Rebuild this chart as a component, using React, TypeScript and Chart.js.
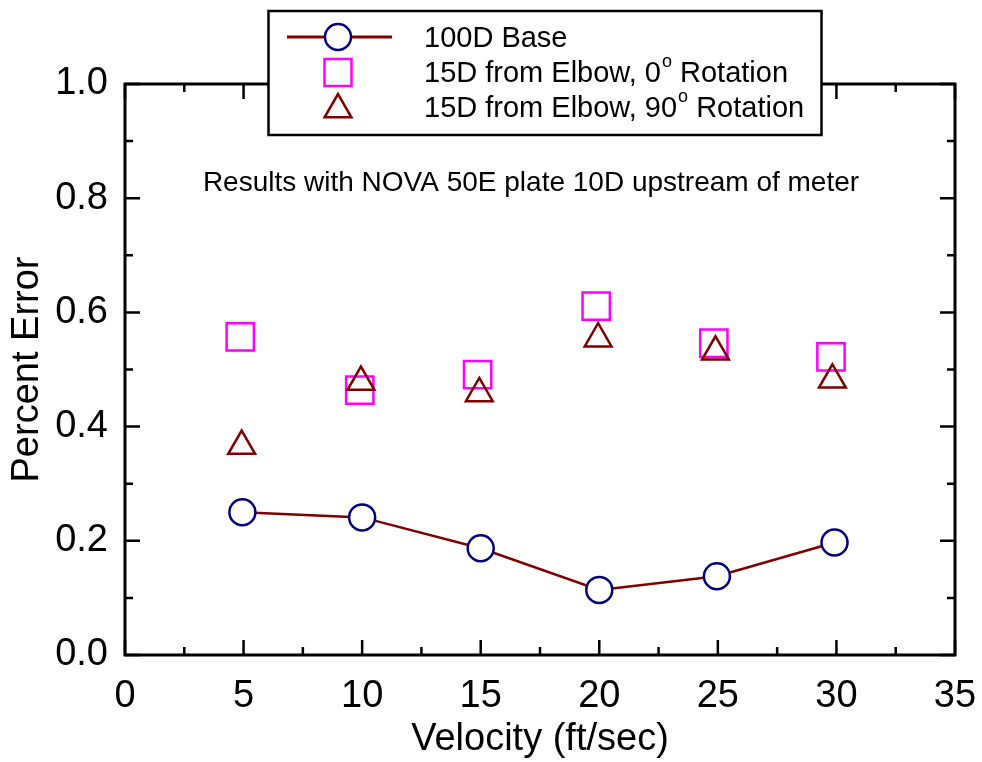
import React, { useEffect, useRef } from "react";
import { Chart, registerables } from "chart.js";

Chart.register(...registerables);

const velocityBase = [4.95, 10.0, 15.0, 20.0, 24.96, 29.92];
const errorBase = [0.25, 0.241, 0.187, 0.114, 0.138, 0.197];
const velocityRot0 = [4.86, 9.9, 14.87, 19.87, 24.83, 29.77];
const errorRot0 = [0.557, 0.464, 0.491, 0.611, 0.546, 0.522];
const velocityRot90 = [4.92, 9.95, 14.94, 19.95, 24.9, 29.83];
const errorRot90 = [0.366, 0.478, 0.458, 0.554, 0.531, 0.482];

const xTickValues = [0, 5, 10, 15, 20, 25, 30, 35];
const yTickValues = [0, 0.2, 0.4, 0.6, 0.8, 1.0];

const seriesNames = ["100D Base", "15D from Elbow, 0", "15D from Elbow, 90"];
const annotationText = "Results with NOVA 50E plate 10D upstream of meter";
const xTitle = "Velocity (ft/sec)";
const yTitle = "Percent Error";

const FONT = '"Liberation Sans", Arial, Helvetica, sans-serif';
const MAROON = "#800000";
const NAVY = "#000080";
const MAGENTA = "#FF00FF";

const toPoints = (xs: number[], ys: number[]) => xs.map((x, i) => ({ x, y: ys[i] }));

const framePlugin = {
  id: "frameTicks",
  afterDatasetsDraw(chart: any) {
    const { ctx, chartArea } = chart;
    const { left, right, top, bottom } = chartArea;
    const xs = chart.scales.x;
    const ys = chart.scales.y;
    ctx.save();
    ctx.strokeStyle = "#000";
    ctx.lineWidth = 2.5;
    ctx.lineCap = "butt";
    for (let v = 0; v <= 35; v += 2.5) {
      const px = xs.getPixelForValue(v);
      const major = Math.abs(v % 5) < 1e-9;
      const len = major ? 15 : 8;
      ctx.beginPath();
      ctx.moveTo(px, bottom);
      ctx.lineTo(px, bottom - len);
      ctx.moveTo(px, top);
      ctx.lineTo(px, top + len);
      ctx.stroke();
    }
    for (let i = 0; i <= 10; i++) {
      const v = i / 10;
      const py = ys.getPixelForValue(v);
      const len = i % 2 === 0 ? 15 : 8;
      ctx.beginPath();
      ctx.moveTo(left, py);
      ctx.lineTo(left + len, py);
      ctx.moveTo(right, py);
      ctx.lineTo(right - len, py);
      ctx.stroke();
    }
    ctx.lineWidth = 3;
    ctx.strokeRect(left, top, right - left, bottom - top);
    ctx.restore();
  },
  afterDraw(chart: any) {
    const { ctx } = chart;
    ctx.save();
    // annotation
    ctx.fillStyle = "#000";
    ctx.font = `28px ${FONT}`;
    ctx.textAlign = "center";
    ctx.textBaseline = "alphabetic";
    ctx.fillText(annotationText, 531, 191, 676);

    // legend box
    const bx = 268.5, by = 11, bw = 553, bh = 124;
    ctx.fillStyle = "#fff";
    ctx.fillRect(bx, by, bw, bh);
    ctx.strokeStyle = "#000";
    ctx.lineWidth = 2.5;
    ctx.strokeRect(bx, by, bw, bh);

    const mx = 338;
    // line + circle
    ctx.strokeStyle = MAROON;
    ctx.lineWidth = 3;
    ctx.beginPath();
    ctx.moveTo(287, 37);
    ctx.lineTo(392, 37);
    ctx.stroke();
    ctx.beginPath();
    ctx.arc(mx, 37, 13, 0, Math.PI * 2);
    ctx.fillStyle = "#fff";
    ctx.fill();
    ctx.strokeStyle = NAVY;
    ctx.lineWidth = 2.5;
    ctx.stroke();
    // square
    ctx.strokeStyle = MAGENTA;
    ctx.strokeRect(mx - 13.5, 72.5 - 13.5, 27, 27);
    // triangle
    const r = 15.5, ty = 109.5;
    ctx.strokeStyle = MAROON;
    ctx.beginPath();
    for (let k = 0; k < 3; k++) {
      const a = (k * 2 * Math.PI) / 3;
      const px = mx + Math.sin(a) * r;
      const py = ty - Math.cos(a) * r;
      if (k === 0) ctx.moveTo(px, py);
      else ctx.lineTo(px, py);
    }
    ctx.closePath();
    ctx.stroke();

    // texts
    ctx.fillStyle = "#000";
    ctx.textAlign = "left";
    const fs = 29;
    ctx.font = `${fs}px ${FONT}`;
    const tx = 424;
    ctx.fillText(seriesNames[0], tx, 47);
    const drawDeg = (label: string, y: number) => {
      ctx.font = `${fs}px ${FONT}`;
      ctx.fillText(label, tx, y);
      let w = ctx.measureText(label).width;
      ctx.font = `18px ${FONT}`;
      ctx.fillText("o", tx + w + 1, y - 15);
      w += ctx.measureText("o").width + 1;
      ctx.font = `${fs}px ${FONT}`;
      ctx.fillText(" Rotation", tx + w, y);
    };
    drawDeg(seriesNames[1], 82);
    drawDeg(seriesNames[2], 117);
    ctx.restore();
  },
};

export default function App() {
  const ref = useRef<HTMLCanvasElement | null>(null);
  useEffect(() => {
    if (!ref.current) return;
    const chart = new Chart(ref.current, {
      type: "scatter",
      data: {
        datasets: [
          {
            label: seriesNames[0],
            data: toPoints(velocityBase, errorBase),
            showLine: true,
            borderColor: MAROON,
            borderWidth: 2.5,
            pointStyle: "circle",
            pointRadius: 13,
            pointHoverRadius: 13,
            pointBorderColor: NAVY,
            pointBackgroundColor: "#fff",
            pointBorderWidth: 2.5,
            order: 0,
          },
          {
            label: seriesNames[1],
            data: toPoints(velocityRot0, errorRot0),
            showLine: false,
            pointStyle: "rect",
            pointRadius: 19.3,
            pointHoverRadius: 19.3,
            pointBorderColor: MAGENTA,
            pointBackgroundColor: "rgba(0,0,0,0)",
            pointBorderWidth: 2.5,
            order: 2,
          },
          {
            label: seriesNames[2],
            data: toPoints(velocityRot90, errorRot90),
            showLine: false,
            pointStyle: "triangle",
            pointRadius: 15.5,
            pointHoverRadius: 15.5,
            pointBorderColor: MAROON,
            pointBackgroundColor: "rgba(0,0,0,0)",
            pointBorderWidth: 2.5,
            order: 1,
          },
        ],
      },
      options: {
        responsive: false,
        animation: false,
        layout: { padding: { left: 5, right: 27, top: 84, bottom: 0 } },
        plugins: { legend: { display: false }, tooltip: { enabled: false } },
        scales: {
          x: {
            type: "linear",
            min: 0,
            max: 35,
            afterBuildTicks: (scale: any) => {
              scale.ticks = xTickValues.map((v) => ({ value: v }));
            },
            ticks: {
              font: { family: FONT, size: 38 },
              color: "#000",
              padding: 19,
              maxRotation: 0,
              callback: (v: any) => String(v),
            },
            grid: { display: false, drawTicks: false },
            border: { display: false },
            title: {
              display: true,
              text: xTitle,
              font: { family: FONT, size: 38 },
              color: "#000",
              padding: 0,
            },
            afterFit: (scale: any) => {
              scale.height = 107;
              scale.paddingLeft = 0;
              scale.paddingRight = 0;
            },
          },
          y: {
            type: "linear",
            min: 0,
            max: 1,
            afterBuildTicks: (scale: any) => {
              scale.ticks = yTickValues.map((v) => ({ value: v }));
            },
            ticks: {
              font: { family: FONT, size: 38 },
              color: "#000",
              padding: 17,
              callback: (v: any) => Number(v).toFixed(1),
            },
            grid: { display: false, drawTicks: false },
            border: { display: false },
            title: {
              display: true,
              text: yTitle,
              font: { family: FONT, size: 38 },
              color: "#000",
              padding: 0,
            },
            afterFit: (scale: any) => {
              scale.width = 120;
              scale.paddingTop = 0;
              scale.paddingBottom = 0;
            },
          },
        },
      },
      plugins: [framePlugin],
    });
    return () => chart.destroy();
  }, []);
  return (
    <div style={{ position: "fixed", left: 0, top: 0, width: 982, height: 762, background: "#fff" }}>
      <canvas ref={ref} width={982} height={762} style={{ display: "block" }} />
    </div>
  );
}
